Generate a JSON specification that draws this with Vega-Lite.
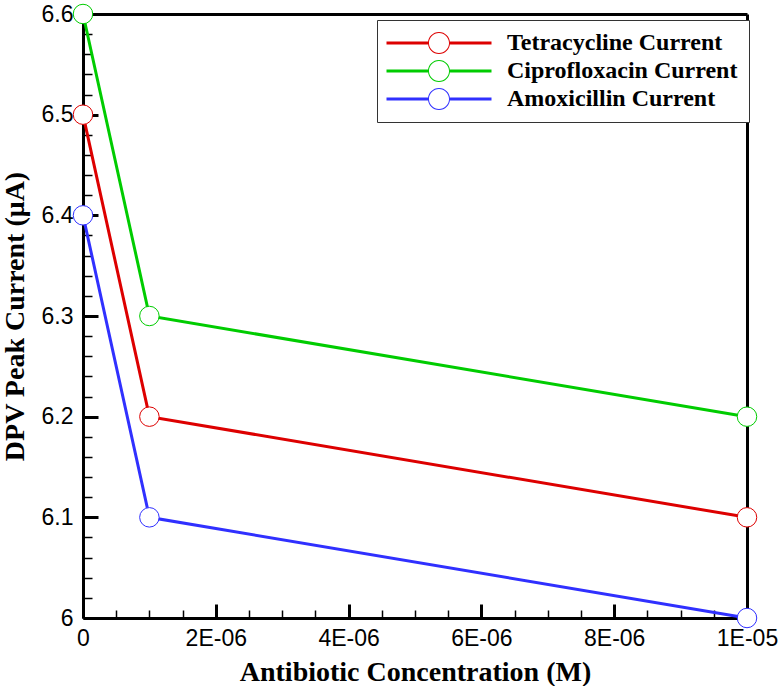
{
  "$schema": "https://vega.github.io/schema/vega-lite/v6.json",
  "width": 664,
  "height": 604,
  "autosize": "none",
  "padding": {"left": 83, "top": 14, "right": 32, "bottom": 68},
  "config": {
    "view": {"stroke": null},
    "font": "Liberation Sans",
    "axis": {
      "domainColor": "black",
      "domainWidth": 3,
      "tickColor": "black",
      "grid": false,
      "zindex": 1,
      "labelColor": "black",
      "labelFont": "Liberation Sans",
      "labelFontSize": 23,
      "labelOverlap": false,
      "labelFlush": false,
      "titleColor": "black",
      "titleFont": "Liberation Serif",
      "titleFontWeight": "bold",
      "titleFontSize": 28
    }
  },
  "data": {
    "values": [
      {"series": "Tetracycline Current", "conc": 0, "current": 6.5},
      {"series": "Tetracycline Current", "conc": 0.000001, "current": 6.2},
      {"series": "Tetracycline Current", "conc": 0.00001, "current": 6.1},
      {"series": "Ciprofloxacin Current", "conc": 0, "current": 6.6},
      {"series": "Ciprofloxacin Current", "conc": 0.000001, "current": 6.3},
      {"series": "Ciprofloxacin Current", "conc": 0.00001, "current": 6.2},
      {"series": "Amoxicillin Current", "conc": 0, "current": 6.4},
      {"series": "Amoxicillin Current", "conc": 0.000001, "current": 6.1},
      {"series": "Amoxicillin Current", "conc": 0.00001, "current": 6.0}
    ]
  },
  "layer": [
    {
      "mark": {"type": "line", "strokeWidth": 3},
      "encoding": {
        "x": {
          "field": "conc",
          "type": "quantitative",
          "scale": {"domain": [0, 0.00001], "nice": false, "zero": false},
          "axis": {
            "orient": "bottom",
            "title": null,
            "labels": false,
            "domain": false,
            "values": [5e-7, 1e-6, 1.5e-6, 2.5e-6, 3e-6, 3.5e-6, 4.5e-6, 5e-6, 5.5e-6, 6.5e-6, 7e-6, 7.5e-6, 8.5e-6, 9e-6, 9.5e-6],
            "tickSize": -8,
            "tickWidth": 1.5
          }
        },
        "y": {
          "field": "current",
          "type": "quantitative",
          "scale": {"domain": [6, 6.6], "nice": false, "zero": false},
          "axis": {
            "orient": "left",
            "title": null,
            "labels": false,
            "domain": false,
            "values": [6.02, 6.04, 6.06, 6.08, 6.12, 6.14, 6.16, 6.18, 6.22, 6.24, 6.26, 6.28, 6.32, 6.34, 6.36, 6.38, 6.42, 6.44, 6.46, 6.48, 6.52, 6.54, 6.56, 6.58],
            "tickSize": -9,
            "tickWidth": 1.5
          }
        },
        "stroke": {
          "field": "series",
          "type": "nominal",
          "sort": null,
          "scale": {"range": ["#dd0000", "#00cc00", "#3030ff"]},
          "legend": null
        }
      }
    },
    {
      "mark": {"type": "point", "shape": "circle", "size": 380, "filled": false, "fill": "white", "fillOpacity": 1, "strokeWidth": 1},
      "encoding": {
        "x": {
          "field": "conc",
          "type": "quantitative",
          "scale": {"domain": [0, 0.00001], "nice": false, "zero": false},
          "axis": {
            "orient": "bottom",
            "title": "Antibiotic Concentration (M)",
            "values": [0, 2e-6, 4e-6, 6e-6, 8e-6, 1e-5],
            "labelExpr": "datum.value == 0 ? '0' : (datum.value > 9e-6 ? '1E-05' : round(datum.value * 1e6) + 'E-06')",
            "tickSize": -14,
            "tickWidth": 3,
            "labelPadding": 23,
            "titleX": 332,
            "titleY": 62,
            "titleBaseline": "alphabetic",
            "titleAlign": "center"
          }
        },
        "y": {
          "field": "current",
          "type": "quantitative",
          "scale": {"domain": [6, 6.6], "nice": false, "zero": false},
          "axis": {
            "orient": "left",
            "title": "DPV Peak Current (μA)",
            "values": [6, 6.1, 6.2, 6.3, 6.4, 6.5, 6.6],
            "labelExpr": "format(datum.value, '.2~r')",
            "tickSize": -15,
            "tickWidth": 3,
            "labelPadding": 25,
            "labelBaseline": "middle",
            "titleX": -60,
            "titleY": 302,
            "titleAngle": -90,
            "titleBaseline": "alphabetic",
            "titleAlign": "center"
          }
        },
        "stroke": {"field": "series", "type": "nominal", "sort": null, "legend": null}
      }
    },
    {
      "mark": {"type": "point", "shape": "circle", "filled": true, "size": 0},
      "encoding": {
        "x": {
          "field": "conc",
          "type": "quantitative",
          "scale": {"domain": [0, 0.00001], "nice": false, "zero": false},
          "axis": {"orient": "top", "title": null, "ticks": false, "labels": false}
        },
        "y": {
          "field": "current",
          "type": "quantitative",
          "scale": {"domain": [6, 6.6], "nice": false, "zero": false},
          "axis": {"orient": "right", "title": null, "ticks": false, "labels": false}
        },
        "fill": {
          "field": "series",
          "type": "nominal",
          "sort": null,
          "scale": {
            "domain": ["Tetracycline Current", "Ciprofloxacin Current", "Amoxicillin Current"],
            "range": ["#dd0000", "#00cc00", "#3030ff"]
          },
          "legend": {
            "orient": "none",
            "legendX": 294,
            "legendY": 6,
            "title": null,
            "padding": 11,
            "fillColor": "white",
            "strokeColor": "#333333",
            "rowPadding": 4,
            "symbolType": "M-5,-0.143H-1.05V0.143H-5Z M1.05,-0.143H5V0.143H1.05Z M-1.05,0A1.05,1.05 0 1,0 1.05,0A1.05,1.05 0 1,0 -1.05,0Z M-0.955,0A0.955,0.955 0 1,1 0.955,0A0.955,0.955 0 1,1 -0.955,0Z",
            "symbolSize": 441,
            "symbolOpacity": 1,
            "symbolStrokeWidth": 0,
            "symbolOffset": 39,
            "labelOffset": 56,
            "labelFont": "Liberation Serif",
            "labelFontWeight": "bold",
            "labelFontSize": 24,
            "labelColor": "black",
            "labelLimit": 400
          }
        }
      }
    }
  ],
  "resolve": {"axis": {"x": "independent", "y": "independent"}}
}
